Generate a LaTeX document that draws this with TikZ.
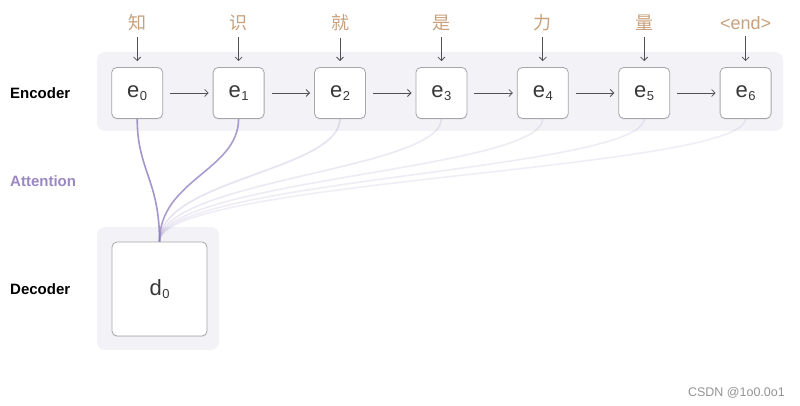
\documentclass[tikz,border=0pt]{standalone}
\usepackage{fontspec}
\setmainfont{Liberation Sans}
\newfontfamily\cjk{Noto Sans CJK SC}
\usetikzlibrary{arrows.meta,shadows}
\definecolor{band}{HTML}{F3F3F7}
\definecolor{tanc}{HTML}{C8A07C}
\definecolor{att}{HTML}{8E7BBE}
\definecolor{attlab}{HTML}{9A88C2}
\definecolor{boxline}{HTML}{A6A6AA}
\definecolor{arrc}{HTML}{505055}
\tikzset{
  ebox/.style={draw=boxline, line width=0.8pt, fill=white, rounded corners=5pt,
    minimum width=51pt, minimum height=51pt, inner sep=0pt,
    drop shadow={opacity=0.12, shadow xshift=0pt, shadow yshift=-1.2pt},
    font=\fontsize{22}{22}\selectfont, text=black!78},
  dbox/.style={ebox, minimum width=95pt, minimum height=94pt},
  inlab/.style={text=tanc, font=\fontsize{18}{18}\selectfont, inner sep=0pt},
  rowlab/.style={anchor=west, font=\fontsize{15}{15}\selectfont\bfseries, inner sep=0pt},
  arr/.style={draw=arrc, line width=0.8pt, -{Straight Barb[length=3.5pt,width=7pt]}},
  attline/.style={draw=att, line width=1.6pt},
  bandbox/.style={fill=band, rounded corners=8pt, draw=none}
}
\newcommand{\sbx}[2]{#1\kern0.5pt\raisebox{-0.3ex}{\fontsize{13}{13}\selectfont #2}}
\begin{document}
\begin{tikzpicture}[x=1pt,y=-1pt]
\useasboundingbox (0,0) rectangle (800,406);
\fill[white] (0,0) rectangle (800,406);
% bands
\path[bandbox] (97,52) rectangle (783,131);
\path[bandbox] (97,227) rectangle (219,350);
% row labels
\node[rowlab, text=black] (lenc) at (10,93) {Encoder};
\node[rowlab, text=attlab] (latt) at (10,181) {Attention};
\node[rowlab, text=black] (ldec) at (10,289) {Decoder};
% decoder box
\node[dbox] (d0) at (159.5,289) {\sbx{d}{0}};
% attention curves (drawn before encoder boxes)
\foreach \i/\x/\op in {0/137.2/0.8,1/238.6/0.75,2/340.0/0.22,3/441.4/0.16,4/542.8/0.15,5/644.2/0.14,6/745.6/0.13}{
  \coordinate (c\i) at (\x,118.5);
  \draw[attline, opacity=\op] (c\i) .. controls +(0,52) and +(0,-62) .. (d0.north);
}
% encoder boxes and inputs
\foreach \i/\x/\w in {0/137.2/{\cjk 知},1/238.6/{\cjk 识},2/340.0/{\cjk 就},3/441.4/{\cjk 是},4/542.8/{\cjk 力},5/644.2/{\cjk 量},6/745.6/{<end>}}{
  \node[ebox] (e\i) at (\x,93) {\sbx{e}{\i}};
  \node[inlab] (w\i) at (\x,23) {\w};
  \draw[arr, shorten <=6pt, shorten >=6pt] (w\i.south) -- (e\i.north);
}
\foreach \a/\b in {0/1,1/2,2/3,3/4,4/5,5/6}{
  \draw[arr, shorten <=7pt, shorten >=4pt] (e\a.east) -- (e\b.west);
}
\node[anchor=east, text=black!42, font=\fontsize{12.5}{12.5}\selectfont, inner sep=0pt] (wm) at (785,393) {CSDN @1o0.0o1};
\end{tikzpicture}
\end{document}
